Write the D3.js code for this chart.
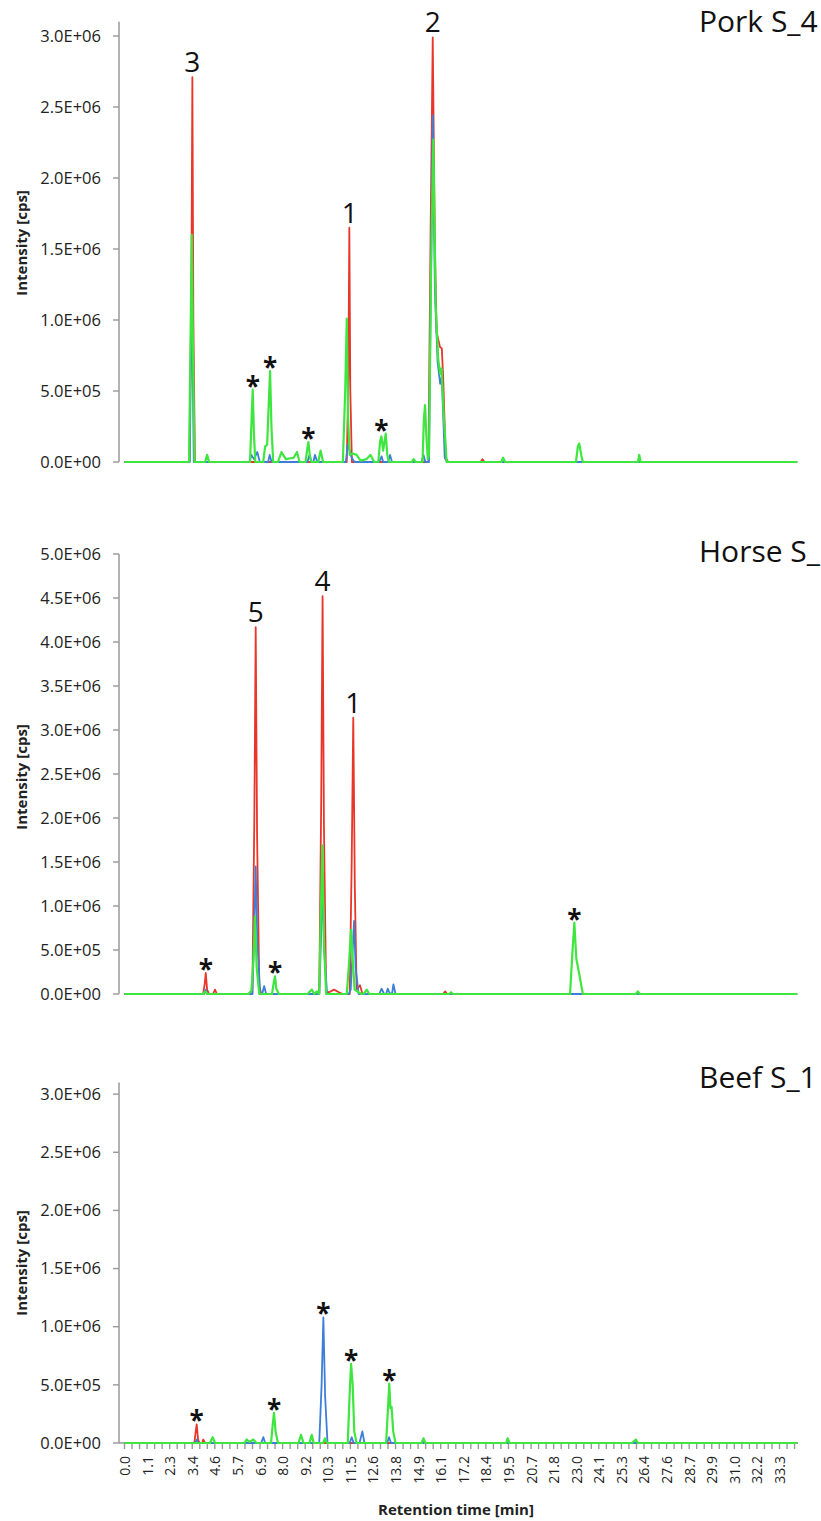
<!DOCTYPE html>
<html>
<head>
<meta charset="utf-8">
<script src="https://cdn.jsdelivr.net/npm/d3@7"></script>
<style>
  body { margin: 0; background: #fff; }
  svg { display: block; font-family: "Open Sans", sans-serif; }
</style>
</head>
<body>
<svg id="chart" width="821" height="1521"></svg>
<script>
// ---- data: [retention time (min), intensity (cps)]
const porkRed = [[0,0],[3.30,0],[3.40,1.2e6],[3.45,2.71e6],[3.50,1.0e6],[3.58,0],
  [11.30,0],[11.38,0.6e6],[11.43,1.65e6],[11.48,0.5e6],[11.56,0],
  [15.45,0],[15.56,1.6e6],[15.67,2.99e6],[15.78,1.5e6],[15.87,0.91e6],[16.04,0.81e6],[16.13,0.80e6],[16.20,0.6e6],[16.33,0.03e6],[16.45,0],
  [18.1,0],[18.2,0.02e6],[18.3,0],[34.2,0]];
const porkBlue = [[0,0],[3.32,0],[3.42,1.3e6],[3.52,0],
  [6.35,0],[6.45,0.05e6],[6.58,0.02e6],[6.75,0.07e6],[6.88,0],
  [7.3,0],[7.38,0.05e6],[7.48,0],
  [9.3,0],[9.4,0.05e6],[9.5,0],[9.6,0],[9.68,0.05e6],[9.8,0],
  [11.25,0],[11.35,0.12e6],[11.45,0.08e6],[11.55,0.03e6],[11.7,0],
  [12.95,0],[13.07,0.04e6],[13.15,0],[13.4,0],[13.5,0.05e6],[13.6,0],
  [15.1,0],[15.2,0.05e6],[15.3,0],
  [15.48,0],[15.58,1.3e6],[15.67,2.44e6],[15.78,1.2e6],[15.92,0.7e6],[16.05,0.55e6],[16.13,0.6e6],[16.28,0.03e6],[16.4,0],
  [34.2,0]];
const porkGreen = [[0,0],[3.28,0],[3.36,0.9e6],[3.42,1.6e6],[3.48,0.8e6],[3.56,0],
  [4.1,0],[4.2,0.05e6],[4.3,0],
  [6.38,0],[6.46,0.3e6],[6.52,0.51e6],[6.58,0.2e6],[6.65,0],
  [7.05,0],[7.15,0.11e6],[7.25,0.12e6],[7.33,0.4e6],[7.40,0.64e6],[7.47,0.25e6],[7.56,0],
  [7.8,0],[7.98,0.07e6],[8.2,0.02e6],[8.6,0.03e6],[8.77,0.07e6],[8.9,0],
  [9.2,0],[9.3,0.1e6],[9.35,0.14e6],[9.42,0.05e6],[9.5,0],
  [9.85,0],[9.97,0.08e6],[10.1,0],
  [11.1,0],[11.22,0.5e6],[11.30,1.01e6],[11.37,0.3e6],[11.45,0.05e6],[11.6,0.06e6],[11.8,0.05e6],[12.0,0.01e6],[12.3,0.02e6],[12.5,0.05e6],[12.7,0],
  [12.9,0],[13.0,0.15e6],[13.06,0.18e6],[13.15,0.08e6],[13.28,0.2e6],[13.36,0.05e6],[13.45,0],
  [14.6,0],[14.7,0.02e6],[14.8,0],
  [15.15,0],[15.22,0.3e6],[15.28,0.40e6],[15.34,0.2e6],[15.42,0.02e6],[15.48,0.05e6],[15.58,1.3e6],[15.70,2.27e6],[15.82,1.1e6],[15.95,0.72e6],[16.05,0.62e6],[16.12,0.66e6],[16.22,0.35e6],[16.38,0],
  [19.15,0],[19.25,0.03e6],[19.35,0],
  [22.95,0],[23.05,0.11e6],[23.12,0.13e6],[23.22,0.05e6],[23.3,0],
  [26.1,0],[26.17,0.05e6],[26.24,0],[34.2,0]];

const horseRed = [[0,0],[4.0,0],[4.08,0.12e6],[4.13,0.24e6],[4.2,0.05e6],[4.3,0],
  [4.5,0],[4.6,0.05e6],[4.7,0],
  [6.5,0],[6.6,2.0e6],[6.67,4.17e6],[6.74,1.8e6],[6.85,0.1e6],[6.95,0],
  [9.9,0],[10.0,2.2e6],[10.07,4.52e6],[10.14,1.9e6],[10.25,0.02e6],[10.4,0.02e6],[10.65,0.05e6],[10.9,0.02e6],[11.1,0],
  [11.45,0],[11.55,1.5e6],[11.63,3.14e6],[11.71,1.2e6],[11.8,0.05e6],[11.97,0.1e6],[12.1,0],
  [16.2,0],[16.3,0.03e6],[16.4,0],[34.2,0]];
const horseBlue = [[0,0],[4.05,0],[4.13,0.05e6],[4.2,0],
  [6.5,0],[6.6,0.8e6],[6.67,1.45e6],[6.75,0.6e6],[6.9,0],
  [7.0,0],[7.1,0.09e6],[7.2,0],
  [9.9,0],[10.0,0.7e6],[10.07,1.3e6],[10.15,0.5e6],[10.3,0],
  [11.4,0],[11.5,0.05e6],[11.6,0.5e6],[11.67,0.83e6],[11.75,0.3e6],[11.9,0],
  [12.95,0],[13.07,0.06e6],[13.2,0],[13.3,0],[13.38,0.06e6],[13.48,0.01e6],[13.6,0],[13.67,0.11e6],[13.78,0],
  [34.2,0]];
const horseGreen = [[0,0],[4.0,0],[4.1,0.03e6],[4.2,0],
  [6.3,0],[6.45,0.04e6],[6.56,0.4e6],[6.63,0.88e6],[6.72,0.3e6],[6.85,0],
  [7.5,0],[7.58,0.12e6],[7.65,0.2e6],[7.72,0.06e6],[7.85,0],
  [9.3,0],[9.52,0.05e6],[9.65,0],[9.77,0.03e6],[9.9,0],
  [9.97,0.8e6],[10.06,1.69e6],[10.14,0.6e6],[10.25,0],
  [11.3,0],[11.4,0.3e6],[11.52,0.73e6],[11.6,0.4e6],[11.7,0.05e6],[11.9,0.02e6],[12.05,0],[12.2,0.01e6],[12.31,0.05e6],[12.45,0],
  [16.5,0],[16.6,0.02e6],[16.7,0],
  [22.65,0],[22.78,0.5e6],[22.87,0.81e6],[22.97,0.4e6],[23.1,0.25e6],[23.3,0],
  [26.0,0],[26.1,0.03e6],[26.2,0],[34.2,0]];

const beefRed = [[0,0],[3.55,0],[3.62,0.1e6],[3.67,0.16e6],[3.74,0.03e6],[3.82,0],
  [3.95,0],[4.0,0.03e6],[4.1,0],[34.2,0]];
const beefBlue = [[0,0],[3.6,0],[3.67,0.03e6],[3.75,0],
  [6.95,0],[7.06,0.05e6],[7.15,0],
  [9.9,0],[10.02,0.5e6],[10.11,1.08e6],[10.2,0.4e6],[10.32,0],
  [11.45,0],[11.55,0.05e6],[11.65,0],
  [11.95,0],[12.09,0.1e6],[12.2,0],
  [13.35,0],[13.45,0.05e6],[13.55,0],[34.2,0]];
const beefGreen = [[0,0],[4.35,0],[4.48,0.05e6],[4.6,0],
  [6.1,0],[6.21,0.03e6],[6.35,0.01e6],[6.55,0.03e6],[6.7,0],
  [7.45,0],[7.53,0.15e6],[7.60,0.26e6],[7.68,0.1e6],[7.8,0],
  [8.85,0],[8.97,0.07e6],[9.1,0],[9.4,0],[9.52,0.07e6],[9.62,0],
  [10.1,0],[10.19,0.04e6],[10.3,0],
  [11.35,0],[11.44,0.4e6],[11.52,0.68e6],[11.6,0.5e6],[11.68,0.1e6],[11.8,0],
  [13.3,0],[13.38,0.25e6],[13.46,0.51e6],[13.52,0.3e6],[13.58,0.31e6],[13.66,0.1e6],[13.78,0],
  [15.1,0],[15.2,0.04e6],[15.3,0],
  [19.4,0],[19.48,0.04e6],[19.58,0],
  [25.8,0],[26.0,0.03e6],[26.1,0],[34.2,0]];

// peak annotations: [label, time, peak intensity]
const porkMarks = [["3",3.45,2.71e6],["1",11.45,1.65e6],["2",15.67,2.99e6],
  ["*",6.52,0.51e6],["*",7.40,0.64e6],["*",9.35,0.14e6],["*",13.06,0.2e6]];
const horseMarks = [["5",6.67,4.17e6],["4",10.07,4.52e6],["1",11.63,3.14e6],
  ["*",4.13,0.24e6],["*",7.65,0.2e6],["*",22.87,0.81e6]];
const beefMarks = [["*",3.67,0.16e6],["*",7.60,0.26e6],["*",10.11,1.08e6],["*",11.52,0.68e6],["*",13.46,0.51e6]];

const porkTicks = [0,0.5e6,1.0e6,1.5e6,2.0e6,2.5e6,3.0e6];
const horseTicks = [0,0.5e6,1.0e6,1.5e6,2.0e6,2.5e6,3.0e6,3.5e6,4.0e6,4.5e6,5.0e6];
const beefTicks = porkTicks;

const timeLabels = ["0.0","1.1","2.3","3.4","4.6","5.7","6.9","8.0","9.2","10.3","11.5","12.6","13.8","14.9","16.1",
  "17.2","18.4","19.5","20.7","21.8","23.0","24.1","25.3","26.4","27.6","28.7","29.9","31.0","32.2","33.3"];
const labelStep = 33.3 / 29;

const colors = { red: "#e8362a", blue: "#3d7fd8", green: "#3fe63f" };

// ---- layout
const svg = d3.select("#chart");
const x = d3.scaleLinear().domain([-0.28, 34.24]).range([119, 798]);

const panels = [
  { title: "Pork S_4", red: porkRed, blue: porkBlue, green: porkGreen, marks: porkMarks, ticks: porkTicks, yMax: 3.1e6, y0: 462, y1: 21.8, titleY: 32, labelY: 243 },
  { title: "Horse S_", red: horseRed, blue: horseBlue, green: horseGreen, marks: horseMarks, ticks: horseTicks, yMax: 5.0e6, y0: 994, y1: 554, titleY: 562, labelY: 777 },
  { title: "Beef S_1", red: beefRed, blue: beefBlue, green: beefGreen, marks: beefMarks, ticks: beefTicks, yMax: 3.1e6, y0: 1443, y1: 1082.5, titleY: 1088, labelY: 1263, xAxis: true }
];

const fmt = v => {
  if (v === 0) return "0.0E+00";
  const e = Math.floor(Math.log10(v));
  return (v / Math.pow(10, e)).toFixed(1) + "E+" + String(e).padStart(2, "0");
};

panels.forEach(p => {
  const y = d3.scaleLinear().domain([0, p.yMax]).range([p.y0, p.y1]);
  const g = svg.append("g");

  // x axis: only the bottom panel carries ticks and labels
  if (p.xAxis) {
    const nTicks = Math.floor(34.24 / (labelStep / 3));
    const tickT = d3.range(0, nTicks + 1).map(k => k * labelStep / 3);
    g.append("line").attr("x1", 119).attr("x2", 798).attr("y1", p.y0).attr("y2", p.y0)
      .attr("stroke", "#999").attr("stroke-width", 1.5);
    g.selectAll(".xtick").data(tickT).join("line").attr("class", "xtick")
      .attr("x1", d => x(d)).attr("x2", d => x(d)).attr("y1", p.y0).attr("y2", p.y0 + 6)
      .attr("stroke", "#999").attr("stroke-width", 1.4);
    g.selectAll(".xlab").data(timeLabels).join("text").attr("class", "xlab")
      .attr("transform", (d, i) => `translate(${x(i * labelStep)},${p.y0 + 13}) rotate(-90)`)
      .attr("text-anchor", "end").attr("dominant-baseline", "central")
      .style("font-size", "14px").attr("fill", "#222").text(d => d);
    svg.append("text").attr("x", 456).attr("y", 1515).attr("text-anchor", "middle")
      .style("font-size", "15px").attr("font-weight", "bold").attr("fill", "#222").text("Retention time [min]");
  }

  // y axis
  g.append("line").attr("x1", 119).attr("x2", 119).attr("y1", p.y0).attr("y2", p.y1)
    .attr("stroke", "#999").attr("stroke-width", 1.5);
  g.selectAll(".ytick").data(p.ticks).join("line").attr("class", "ytick")
    .attr("x1", 113).attr("x2", 119).attr("y1", d => y(d)).attr("y2", d => y(d))
    .attr("stroke", "#999").attr("stroke-width", 1.4);
  g.selectAll(".ylab").data(p.ticks).join("text").attr("class", "ylab")
    .attr("x", 101).attr("y", d => y(d)).attr("dy", "0.35em")
    .attr("text-anchor", "end").style("font-size", "16.5px").attr("fill", "#222").text(fmt);

  g.append("text").attr("transform", `translate(27,${p.labelY}) rotate(-90)`)
    .attr("text-anchor", "middle").style("font-size", "15px").attr("font-weight", "bold").attr("fill", "#222")
    .text("Intensity [cps]");

  // traces, green drawn last so it sits on top
  const line = d3.line().x(d => x(d[0])).y(d => y(d[1]));
  [["red", p.red], ["blue", p.blue], ["green", p.green]].forEach(([c, data]) => {
    g.append("path").attr("d", line(data)).attr("fill", "none")
      .attr("stroke", colors[c]).attr("stroke-width", c === "green" ? 2.2 : 1.8)
      .attr("stroke-linejoin", "round");
  });

  // peak labels
  g.selectAll(".mark").data(p.marks).join("text").attr("class", "mark")
    .attr("x", d => x(d[1]))
    .attr("y", d => d[0] === "*" ? y(d[2]) + 6 : y(d[2]) - 5)
    .attr("text-anchor", "middle")
    .style("font-size", d => d[0] === "*" ? "26px" : "28px")
    .attr("font-weight", d => d[0] === "*" ? "bold" : "normal")
    .attr("fill", "#111").text(d => d[0]);

  svg.append("text").attr("x", 699).attr("y", p.titleY).style("font-size", "30px").attr("fill", "#111").text(p.title);
});
</script>
</body>
</html>
